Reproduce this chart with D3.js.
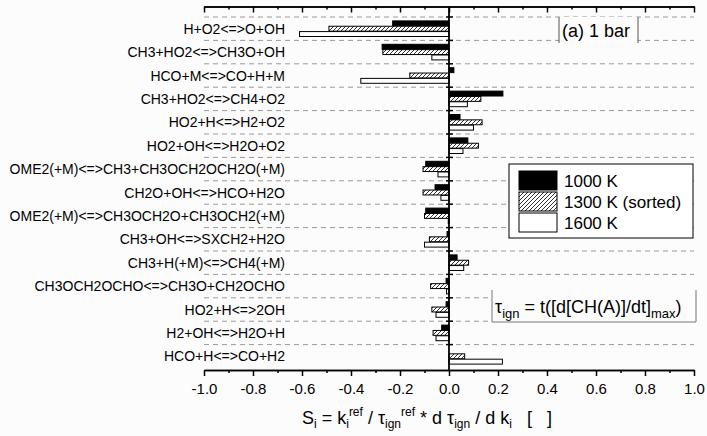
<!DOCTYPE html>
<html>
<head>
<meta charset="utf-8">
<script src="https://d3js.org/d3.v7.min.js"></script>
<style>
  body { margin: 0; background: #fcfcfc; }
  svg { display: block; font-family: "Liberation Sans", Arial, sans-serif; }
</style>
</head>
<body>
<div id="chart"></div>
<script>
// size of the picture
var w = 707,
    h = 436;

// data (top to bottom)
var reactions = [
  "H+O2<=>O+OH",
  "CH3+HO2<=>CH3O+OH",
  "HCO+M<=>CO+H+M",
  "CH3+HO2<=>CH4+O2",
  "HO2+H<=>H2+O2",
  "HO2+OH<=>H2O+O2",
  "OME2(+M)<=>CH3+CH3OCH2OCH2O(+M)",
  "CH2O+OH<=>HCO+H2O",
  "OME2(+M)<=>CH3OCH2O+CH3OCH2(+M)",
  "CH3+OH<=>SXCH2+H2O",
  "CH3+H(+M)<=>CH4(+M)",
  "CH3OCH2OCHO<=>CH3O+CH2OCHO",
  "HO2+H<=>2OH",
  "H2+OH<=>H2O+H",
  "HCO+H<=>CO+H2"
];
var s1000 = [-0.23, -0.273, 0.02, 0.22, 0.045, 0.077, -0.095, -0.057, -0.095, -0.008, 0.033, -0.012, -0.012, -0.03, 0];
var s1300 = [-0.49, -0.27, -0.16, 0.13, 0.135, 0.12, -0.106, -0.106, -0.10, -0.08, 0.08, -0.075, -0.07, -0.065, 0.064];
var s1600 = [-0.61, -0.07, -0.36, 0.075, 0.10, 0.057, -0.045, -0.033, -0.003, -0.10, 0.06, -0.01, -0.053, -0.053, 0.218];

var seriesNames = ["1000 K", "1300 K (sorted)", "1600 K"];
var xTicks = [-1.0, -0.8, -0.6, -0.4, -0.2, 0.0, 0.2, 0.4, 0.6, 0.8, 1.0];
var xMinor = [-0.9, -0.7, -0.5, -0.3, -0.1, 0.1, 0.3, 0.5, 0.7, 0.9];

var series = [
  { name: seriesNames[0], values: s1000, fill: "#000" },
  { name: seriesNames[1], values: s1300, fill: "url(#hatch)" },
  { name: seriesNames[2], values: s1600, fill: "#fff" }
];

var svg = d3.select("#chart")
    .append("svg")
    .attr("width", w)
    .attr("height", h);

// hatch pattern ////
var defs = svg.append("defs");
var pat = defs.append("pattern")
    .attr("id", "hatch")
    .attr("patternUnits", "userSpaceOnUse")
    .attr("width", 4)
    .attr("height", 4);
pat.append("rect").attr("width", 4).attr("height", 4).attr("fill", "#fff");
pat.append("path")
    .attr("d", "M-1,1 l2,-2 M0,4 l4,-4 M3,5 l2,-2")
    .attr("stroke", "#333")
    .attr("stroke-width", 1);

var xScale = d3.scaleLinear()
    .domain([-1, 1])
    .range([204, 694]);
var yScale = d3.scaleBand()
    .domain(reactions)
    .range([17, 368]);
var inner = d3.scaleBand()
    .domain(seriesNames)
    .range([0, 15.6])
    .paddingInner(0.08);
var off = (yScale.bandwidth() - 15.6) / 2;

// dashed separators between reactions
var bounds = reactions.map(function (r) { return yScale(r); });
svg.append("g")
    .selectAll("line")
    .data(bounds)
    .enter()
    .append("line")
    .attr("x1", xScale(-1))
    .attr("x2", xScale(1))
    .attr("y1", function (d) { return d; })
    .attr("y2", function (d) { return d; })
    .attr("stroke", "#9a9a9a")
    .attr("stroke-width", 1)
    .attr("stroke-dasharray", "5,4");

// bars
series.forEach(function (s) {
    svg.append("g")
        .selectAll("rect")
        .data(s.values)
        .enter()
        .append("rect")
        .attr("x", function (d) { return xScale(Math.min(0, d)); })
        .attr("y", function (d, i) { return yScale(reactions[i]) + off + inner(s.name); })
        .attr("width", function (d) { return Math.abs(xScale(d) - xScale(0)); })
        .attr("height", inner.bandwidth())
        .attr("fill", s.fill)
        .attr("stroke", "#000")
        .attr("stroke-width", 1);
});

// reaction labels
svg.append("g")
    .selectAll("text")
    .data(reactions)
    .enter()
    .append("text")
    .attr("x", 285)
    .attr("y", function (d) { return yScale(d) + yScale.bandwidth() / 2 + 5; })
    .attr("text-anchor", "end")
    .attr("font-size", "14px")
    .attr("fill", "#000")
    .text(function (d) { return d; });

// bottom axis
var xAxis = d3.axisBottom(xScale)
    .tickValues(xTicks)
    .tickSize(6)
    .tickSizeOuter(0)
    .tickPadding(7)
    .tickFormat(function (d) { return d.toFixed(1); });
var gx = svg.append("g")
    .attr("transform", "translate(0,370)")
    .call(xAxis);
gx.append("g").call(d3.axisBottom(xScale).tickValues(xMinor).tickSize(3).tickSizeOuter(0).tickFormat(""));
gx.selectAll("text").attr("font-size", "15px").attr("fill", "#000").attr("font-family", "Liberation Sans, Arial, sans-serif");
gx.selectAll("path, line").attr("stroke", "#000").attr("stroke-width", 1.5);

// top axis, ticks inward
var gt = svg.append("g")
    .attr("transform", "translate(0,6.5)")
    .call(d3.axisTop(xScale).tickValues(xTicks).tickSize(-6).tickSizeOuter(0).tickFormat(""));
gt.append("g").call(d3.axisTop(xScale).tickValues(xMinor).tickSize(-3).tickSizeOuter(0).tickFormat(""));
gt.selectAll("path, line").attr("stroke", "#000").attr("stroke-width", 1.5);

// zero line with ticks at separators
svg.append("line")
    .attr("x1", xScale(0)).attr("x2", xScale(0))
    .attr("y1", 6.5).attr("y2", 370)
    .attr("stroke", "#000").attr("stroke-width", 1.8);
svg.append("g")
    .selectAll("line")
    .data(bounds)
    .enter()
    .append("line")
    .attr("x1", xScale(0) - 3)
    .attr("x2", xScale(0) + 4)
    .attr("y1", function (d) { return d; })
    .attr("y2", function (d) { return d; })
    .attr("stroke", "#000")
    .attr("stroke-width", 1.5);

// "(a) 1 bar" box
svg.append("rect")
    .attr("x", 559).attr("y", 17).attr("width", 79).attr("height", 26)
    .attr("fill", "#fcfcfc");
svg.append("path")
    .attr("d", "M559,17V43M638,17V43")
    .attr("stroke", "#555").attr("stroke-width", 1);
svg.append("text")
    .attr("x", 562).attr("y", 37)
    .attr("font-size", "18px")
    .text("(a) 1 bar");

// legend
var lg = svg.append("g");
lg.append("rect")
    .attr("x", 509).attr("y", 164).attr("width", 184).attr("height", 74)
    .attr("fill", "#fff").attr("stroke", "#000").attr("stroke-width", 1);
series.forEach(function (s, i) {
    lg.append("rect")
        .attr("x", 519).attr("y", 171 + i * 21)
        .attr("width", 38).attr("height", 19)
        .attr("fill", s.fill)
        .attr("stroke", "#000").attr("stroke-width", 1);
    lg.append("text")
        .attr("x", 564).attr("y", 187 + i * 21)
        .attr("font-size", "17px")
        .text(s.name);
});

// tau annotation box
svg.append("rect")
    .attr("x", 492).attr("y", 290).attr("width", 204).attr("height", 32)
    .attr("fill", "#fcfcfc");
svg.append("path")
    .attr("d", "M492,290V322H696V290")
    .attr("fill", "none")
    .attr("stroke", "#777").attr("stroke-width", 1);
var tau = svg.append("text")
    .attr("x", 495).attr("y", 313)
    .attr("font-size", "18px");
tau.append("tspan").text("\u03C4");
tau.append("tspan").attr("font-size", "13px").attr("dy", 5).text("ign");
tau.append("tspan").attr("dy", -5).text(" = t([d[CH(A)]/dt]");
tau.append("tspan").attr("font-size", "13px").attr("dy", 5).text("max");
tau.append("tspan").attr("dy", -5).text(")");

// x axis title
var tt = svg.append("text")
    .attr("x", 302).attr("y", 424)
    .attr("font-size", "18px");
tt.append("tspan").text("S");
tt.append("tspan").attr("font-size", "12px").attr("dy", 4).text("i");
tt.append("tspan").attr("dy", -4).text(" = k");
tt.append("tspan").attr("font-size", "12px").attr("dy", 4).text("i");
tt.append("tspan").attr("font-size", "12px").attr("dy", -12).text("ref");
tt.append("tspan").attr("dy", 8).text(" / \u03C4");
tt.append("tspan").attr("font-size", "12px").attr("dy", 4).text("ign");
tt.append("tspan").attr("font-size", "12px").attr("dy", -12).text("ref");
tt.append("tspan").attr("dy", 8).text(" * d \u03C4");
tt.append("tspan").attr("font-size", "12px").attr("dy", 4).text("ign");
tt.append("tspan").attr("dy", -4).text(" / d k");
tt.append("tspan").attr("font-size", "12px").attr("dy", 4).text("i");
tt.append("tspan").attr("dy", -4).attr("xml:space", "preserve").text("   [   ]");
</script>
</body>
</html>
